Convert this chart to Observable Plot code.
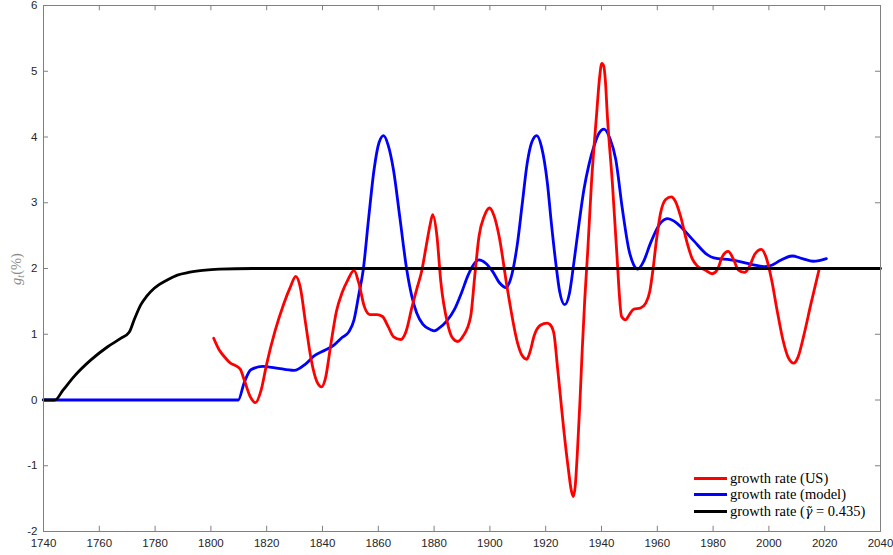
<!DOCTYPE html>
<html>
<head>
<meta charset="utf-8">
<script src="https://cdn.jsdelivr.net/npm/d3@7"></script>
<script src="https://cdn.jsdelivr.net/npm/@observablehq/plot@0.6"></script>
<style>
  body { margin: 0; background: #fff; }
  #wrap { position: relative; width: 893px; height: 555px; }
  #legend { position: absolute; left: 694px; top: 470px; font-family: "Liberation Serif", "DejaVu Serif", serif; font-size: 14.5px; color: #000; }
  #legend .row { display: flex; align-items: center; height: 16.5px; white-space: nowrap; }
  #legend .sw { width: 33px; height: 3px; margin-right: 3px; }
  .gt { font-family: "DejaVu Serif", serif; font-style: italic; font-size: 12.5px; }
</style>
</head>
<body>
<div id="wrap"></div>
<script>
const xTicks = [1740,1760,1780,1800,1820,1840,1860,1880,1900,1920,1940,1960,1980,2000,2020,2040];
const yTicks = [-2,-1,0,1,2,3,4,5,6];

const usYears = [1801,1803,1805,1807,1809,1810.5,1812,1814,1816,1818,1820,1823,1826,1828.5,1830.4,1832,1834,1836,1838,1839.7,1841,1843,1845,1847,1849,1851.3,1853,1855,1857,1859.5,1861.5,1863.5,1865.5,1868,1870,1872,1874,1875.5,1877,1878.5,1879.5,1881,1882.4,1884.8,1886.5,1888.4,1890.5,1893.1,1894.6,1896.1,1898,1899.9,1901.5,1903.3,1906.3,1909.9,1911.5,1913.2,1914.5,1915.8,1918.2,1920.5,1921.5,1922.9,1924.2,1925.4,1926.6,1928,1929.2,1929.9,1930.6,1931.4,1932.3,1933.1,1934,1935.1,1936.4,1938.2,1939.3,1940.1,1940.8,1941.4,1942.1,1943.9,1945.4,1947.2,1948.6,1950,1951.5,1954,1955.8,1957.3,1958.5,1959.6,1961.2,1963,1965,1966.5,1968.3,1970.7,1972.5,1974.3,1977,1979.7,1981.5,1983.3,1985.4,1987.2,1989,1991.3,1993,1995,1997.3,1999,2001,2003,2005,2007,2008.9,2010.5,2012.5,2015,2017.9];
const usRate = [0.94,0.76,0.65,0.56,0.52,0.47,0.3,0.06,-0.04,0.15,0.55,1.05,1.45,1.72,1.88,1.72,1.15,0.6,0.28,0.2,0.32,0.85,1.35,1.63,1.82,1.97,1.78,1.42,1.3,1.3,1.27,1.12,0.96,0.92,1.05,1.4,1.72,1.95,2.3,2.65,2.82,2.5,1.8,1.17,0.95,0.89,0.98,1.27,1.9,2.49,2.8,2.92,2.8,2.49,1.68,0.87,0.68,0.62,0.75,0.97,1.14,1.17,1.15,1.02,0.51,0,-0.5,-1.01,-1.38,-1.47,-1.3,-0.76,0,0.77,1.53,2.29,3.3,4.32,4.9,5.12,5.08,4.85,4.32,3.3,2.29,1.27,1.22,1.3,1.38,1.4,1.47,1.65,2.0,2.4,2.85,3.05,3.09,3.02,2.8,2.39,2.15,2.04,1.98,1.92,1.98,2.18,2.26,2.15,1.98,1.94,2.03,2.22,2.29,2.17,1.82,1.35,0.92,0.64,0.56,0.66,0.98,1.45,1.97];

const modelYears = [1740,1809.8,1811.9,1814.3,1818.5,1823,1829.8,1834,1837,1841,1844.2,1847,1849.5,1851.3,1853,1854.6,1856.5,1858.5,1860.3,1861.9,1863.5,1865.4,1867.8,1870.2,1872,1873.8,1876,1878.8,1880,1882,1884.5,1887.2,1890,1892,1894,1896.1,1898.5,1900.9,1903.5,1905.7,1907.5,1909.9,1911.5,1913.4,1915,1916.8,1918.5,1920.6,1922,1923.6,1925,1926.8,1928.5,1930.1,1932,1933.7,1935.5,1937.3,1939,1940.9,1943,1945.1,1947.5,1949.8,1951.5,1953,1955,1957.6,1961.1,1963.8,1966,1968.3,1973.1,1977.9,1980.3,1986.3,1990,1994,1998.2,2001,2004,2008.4,2012,2015.9,2018,2020.6];
const modelRate = [0,0,0.26,0.46,0.51,0.49,0.45,0.55,0.67,0.76,0.84,0.95,1.04,1.22,1.6,1.98,2.75,3.51,3.92,4.02,3.88,3.51,2.75,1.98,1.58,1.32,1.15,1.07,1.05,1.1,1.2,1.37,1.65,1.88,2.05,2.13,2.08,1.96,1.78,1.71,1.85,2.39,2.95,3.61,3.92,4.02,3.85,3.3,2.7,2.09,1.65,1.45,1.62,2.09,2.7,3.2,3.58,3.86,4.05,4.12,3.98,3.66,2.9,2.29,2.06,1.99,2.1,2.39,2.69,2.76,2.72,2.64,2.42,2.21,2.16,2.13,2.1,2.06,2.03,2.05,2.12,2.19,2.15,2.11,2.12,2.15];

const gammaYears = [1740,1744.1,1747,1751,1757,1763,1767.8,1770.7,1772.5,1774.9,1777,1779.7,1784.5,1788,1792,1797,1803,1815,2040];
const gammaRate = [0,0,0.15,0.36,0.61,0.81,0.94,1.03,1.22,1.45,1.58,1.7,1.83,1.9,1.94,1.97,1.99,2.0,2.0];

const seriesNames = ["growth rate (US)", "growth rate (model)", "growth rate (\u03B3\u0303 = 0.435)"];
const seriesColors = ["#ff0000", "#0000ff", "#000000"];

const us = usYears.map((x, i) => ({x, y: usRate[i]}));
const model = modelYears.map((x, i) => ({x, y: modelRate[i]}));
const gamma = gammaYears.map((x, i) => ({x, y: gammaRate[i]}));

const xDom = [xTicks[0], xTicks[xTicks.length - 1]];
const yDom = [yTicks[0], yTicks[yTicks.length - 1]];
const axisColor = "#808080";

const chart = Plot.plot({
  width: 893,
  height: 555,
  marginLeft: 43,
  marginRight: 13,
  marginTop: 5,
  marginBottom: 24,
  style: { fontFamily: "'Liberation Sans', Arial, sans-serif", fontSize: "11.5px", color: "#262626", background: "#fff" },
  x: { domain: xDom, ticks: xTicks },
  y: { domain: yDom, ticks: yTicks },
  marks: [
    Plot.ruleX(xTicks.slice(1, -1), { x: d => d, y1: yDom[0], y2: yDom[0] + 0.08, stroke: axisColor }),
    Plot.ruleX(xTicks.slice(1, -1), { x: d => d, y1: yDom[1] - 0.08, y2: yDom[1], stroke: axisColor }),
    Plot.ruleY(yTicks.slice(1, -1), { y: d => d, x1: xDom[0], x2: xDom[0] + 1.8, stroke: axisColor }),
    Plot.ruleY(yTicks.slice(1, -1), { y: d => d, x1: xDom[1] - 1.8, x2: xDom[1], stroke: axisColor }),
    Plot.axisX({ ticks: xTicks, tickSize: 0, tickPadding: 7, label: null, tickFormat: d => String(d) }),
    Plot.axisY({ ticks: yTicks, tickSize: 0, tickPadding: 6, label: null, tickFormat: d => String(d) }),
    Plot.line(model, { x: "x", y: "y", stroke: seriesColors[1], strokeWidth: 2.8, curve: "monotone-x" }),
    Plot.line(us, { x: "x", y: "y", stroke: seriesColors[0], strokeWidth: 2.8, curve: "monotone-x" }),
    Plot.line(gamma, { x: "x", y: "y", stroke: seriesColors[2], strokeWidth: 2.8, curve: "monotone-x" }),
    Plot.frame({ stroke: axisColor, strokeWidth: 1 })
  ]
});

const wrap = document.getElementById("wrap");
wrap.appendChild(chart);

// y-axis label g_t(%)
const svg = d3.select(chart);
const lab = svg.append("text")
  .attr("transform", "translate(21,269) rotate(-90)")
  .attr("text-anchor", "middle")
  .attr("fill", "#8a8a8a")
  .attr("font-family", "'Liberation Serif', 'DejaVu Serif', serif")
  .attr("font-size", "14.5px");
lab.append("tspan").attr("font-style", "italic").text("g");
lab.append("tspan").attr("font-style", "italic").attr("font-size", "10px").attr("dy", "3").text("t");
lab.append("tspan").attr("dy", "-3").text("(%)");

// legend
const legend = document.createElement("div");
legend.id = "legend";
seriesNames.forEach((name, i) => {
  const row = document.createElement("div");
  row.className = "row";
  const sw = document.createElement("span");
  sw.className = "sw";
  sw.style.background = seriesColors[i];
  const t = document.createElement("span");
  if (i === 2) {
    t.innerHTML = "growth rate (<span class=\"gt\">\u03B3\u0303</span> = 0.435)";
  } else {
    t.textContent = name;
  }
  row.appendChild(sw);
  row.appendChild(t);
  legend.appendChild(row);
});
wrap.appendChild(legend);
</script>
</body>
</html>
